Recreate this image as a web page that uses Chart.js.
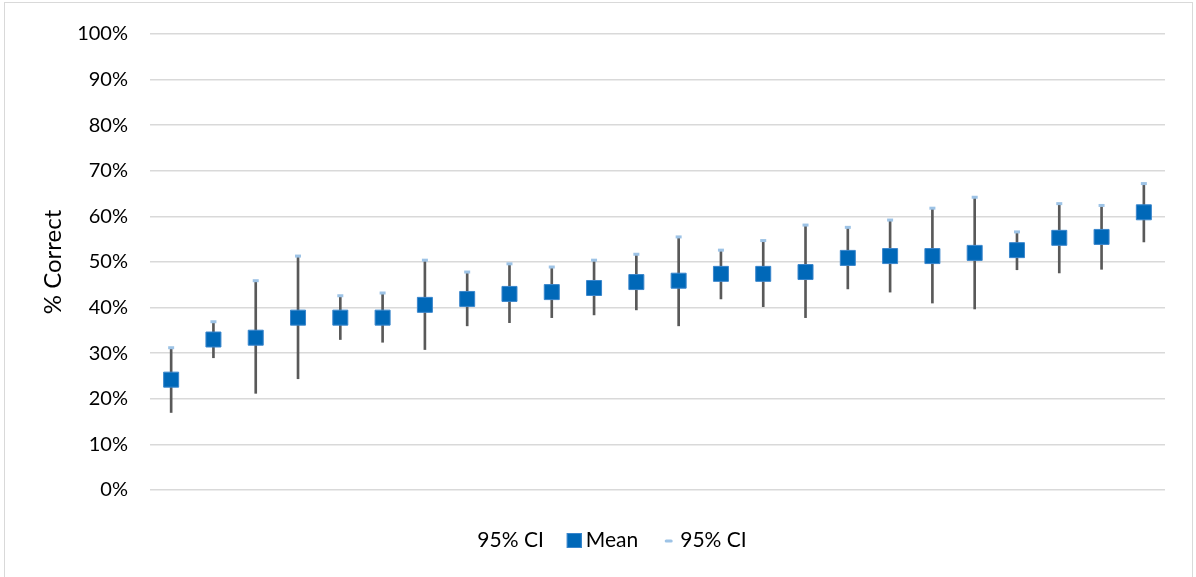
<!DOCTYPE html>
<html>
<head>
<meta charset="utf-8">
<script src="https://cdn.jsdelivr.net/npm/chart.js@4/dist/chart.umd.min.js"></script>
<style>
  html, body { margin: 0; padding: 0; background: #fff; }
  #wrap { width: 1196px; height: 577px; position: relative; }
</style>
</head>
<body>
<div id="wrap"><canvas id="c" width="1196" height="577"></canvas></div>
<script>
// Items, sorted by mean score
const categories = ['1','2','3','4','5','6','7','8','9','10','11','12',
                    '13','14','15','16','17','18','19','20','21','22','23','24'];

// Mean % correct per item
const meanValues = [24.2, 33.0, 33.4, 37.8, 37.8, 37.8, 40.6, 41.9, 43.0, 43.4, 44.3, 45.6,
                    45.9, 47.4, 47.4, 47.8, 50.9, 51.3, 51.3, 52.0, 52.6, 55.3, 55.5, 60.9];

// Lower and upper bounds of the 95% confidence interval
const lowerCI = [17.0, 29.0, 21.2, 24.4, 33.0, 32.4, 30.8, 36.0, 36.7, 37.8, 38.4, 39.5,
                 36.0, 41.9, 40.2, 37.8, 44.1, 43.4, 41.0, 39.7, 48.3, 47.6, 48.4, 54.4];
const upperCI = [31.2, 36.9, 45.9, 51.3, 42.6, 43.2, 50.4, 47.8, 49.6, 48.9, 50.4, 51.7,
                 55.5, 52.6, 54.7, 58.1, 57.6, 59.2, 61.8, 64.2, 56.6, 62.8, 62.4, 67.2];

// Y axis tick values (percent)
const yTickValues = [0, 10, 20, 30, 40, 50, 60, 70, 80, 90, 100];

const FONT = 'Lato, "Open Sans", "DejaVu Sans", sans-serif';

// White background and thin grey frame
const framePlugin = {
  id: 'frame',
  beforeDraw(chart) {
    const ctx = chart.ctx;
    ctx.save();
    ctx.fillStyle = '#ffffff';
    ctx.fillRect(0, 0, chart.width, chart.height);
    ctx.strokeStyle = '#d9d9d9';
    ctx.lineWidth = 1;
    ctx.strokeRect(4.5, 2.5, chart.width - 8, chart.height + 10);
    ctx.restore();
  }
};

// Legend row along the bottom, one entry per dataset that has a key style
const keyPlugin = {
  id: 'bottomKey',
  afterDraw(chart, args, opts) {
    const ctx = chart.ctx;
    const items = chart.data.datasets.filter(d => d.keyStyle);
    ctx.save();
    ctx.font = opts.font;
    ctx.textBaseline = 'middle';
    ctx.textAlign = 'left';
    const widths = items.map(d => (d.keyStyle === 'none' ? 0 : opts.keySize + opts.textGap) + ctx.measureText(d.label).width);
    const total = widths.reduce((a, b) => a + b, 0) + opts.itemGap * (items.length - 1);
    let x = chart.width / 2 - total / 2 + opts.shift;
    const y = opts.y;
    items.forEach((d, i) => {
      let tx = x;
      if (d.keyStyle === 'square') {
        ctx.fillStyle = d.backgroundColor;
        ctx.fillRect(x, y - 7, opts.keySize, opts.keySize);
        ctx.strokeStyle = d.borderColor;
        ctx.lineWidth = 1;
        ctx.strokeRect(x + 0.5, y - 6.5, opts.keySize - 1, opts.keySize - 1);
        tx = x + opts.keySize + opts.textGap;
      } else if (d.keyStyle === 'dash') {
        ctx.strokeStyle = d.borderColor;
        ctx.lineWidth = 3;
        ctx.lineCap = 'round';
        ctx.beginPath();
        ctx.moveTo(x + opts.keySize / 2 - 2.5, y + 1);
        ctx.lineTo(x + opts.keySize / 2 + 2.5, y + 1);
        ctx.stroke();
        tx = x + opts.keySize + opts.textGap;
      }
      ctx.fillStyle = '#000';
      ctx.fillText(d.label, tx, y);
      x += widths[i] + opts.itemGap;
    });
    ctx.restore();
  }
};

const LEFT_PAD = 20;

new Chart(document.getElementById('c'), {
  data: {
    labels: categories,
    datasets: [
      {
        type: 'line',
        label: '95% CI',
        keyStyle: 'none',
        data: lowerCI,
        showLine: false,
        pointRadius: 0,
        order: 3
      },
      {
        type: 'line',
        label: 'Mean',
        keyStyle: 'square',
        data: meanValues,
        showLine: false,
        pointStyle: 'rect',
        pointRadius: 10.6,
        backgroundColor: '#0068b8',
        borderColor: '#3a86cc',
        borderWidth: 1,
        order: 0
      },
      {
        type: 'line',
        label: '95% CI',
        keyStyle: 'dash',
        data: upperCI,
        showLine: false,
        pointStyle: 'line',
        pointRadius: 3,
        borderColor: '#9dc3e6',
        borderWidth: 3,
        order: 1
      },
      {
        // whisker from lower to upper bound
        type: 'bar',
        label: 'interval',
        data: lowerCI.map((lo, i) => [lo, upperCI[i]]),
        backgroundColor: '#595959',
        barThickness: 2,
        order: 2
      }
    ]
  },
  options: {
    responsive: false,
    animation: false,
    events: [],
    layout: { padding: { left: LEFT_PAD, right: 31, top: 20, bottom: 87 } },
    scales: {
      x: { type: 'category', display: false, offset: true },
      y: {
        min: 0,
        max: 100,
        afterBuildTicks(scale) { scale.ticks = yTickValues.map(v => ({ value: v })); },
        afterFit(scale) { scale.width = 150 - LEFT_PAD; },
        border: { display: false },
        grid: { color: '#d9d9d9', lineWidth: 1.5, drawTicks: false },
        ticks: {
          padding: 22,
          color: '#000',
          font: { family: FONT, size: 20 },
          callback: v => v + '%'
        },
        title: {
          display: true,
          text: '% Correct',
          color: '#000',
          font: { family: FONT, size: 24 },
          padding: { top: 19, bottom: 0 }
        }
      }
    },
    plugins: {
      legend: { display: false },
      tooltip: { enabled: false },
      bottomKey: {
        font: '21px ' + FONT,
        keySize: 15,
        textGap: 4,
        itemGap: 23,
        y: 540,
        shift: 14
      }
    }
  },
  plugins: [framePlugin, keyPlugin]
});
</script>
</body>
</html>
